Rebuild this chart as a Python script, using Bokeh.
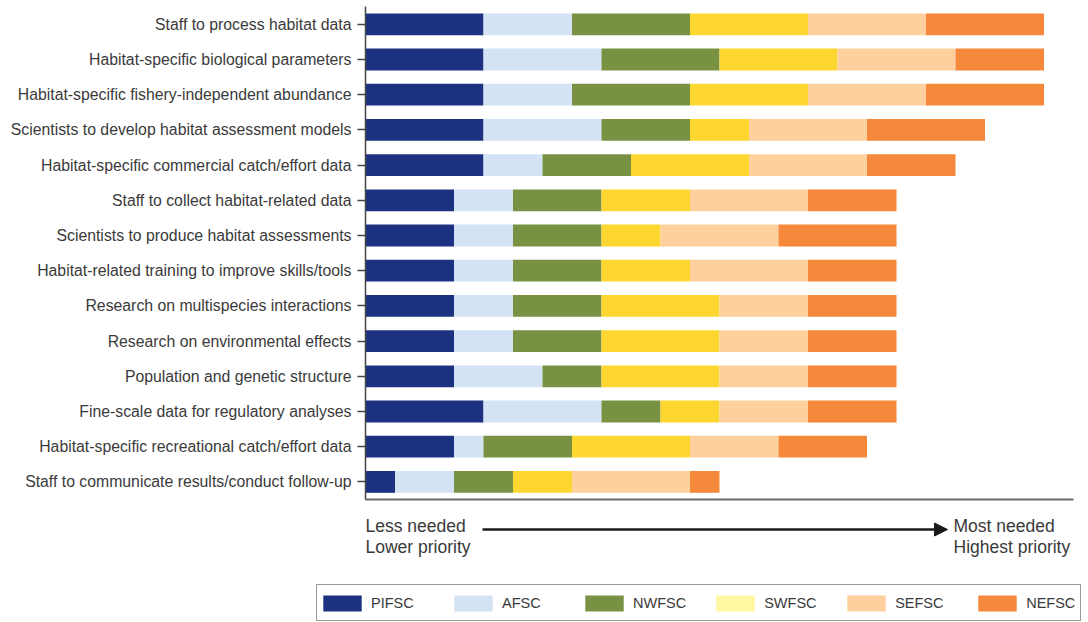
from bokeh.plotting import figure
from bokeh.models import (ColumnDataSource, FixedTicker, Range1d, Legend, LegendItem, Arrow,
                          NormalHead)
from bokeh.core.properties import value
from bokeh.embed import file_html
from bokeh.resources import INLINE

categories = [
    "Staff to process habitat data",
    "Habitat-specific biological parameters",
    "Habitat-specific fishery-independent abundance",
    "Scientists to develop habitat assessment models",
    "Habitat-specific commercial catch/effort data",
    "Staff to collect habitat-related data",
    "Scientists to produce habitat assessments",
    "Habitat-related training to improve skills/tools",
    "Research on multispecies interactions",
    "Research on environmental effects",
    "Population and genetic structure",
    "Fine-scale data for regulatory analyses",
    "Habitat-specific recreational catch/effort data",
    "Staff to communicate results/conduct follow-up",
]
series = ["PIFSC", "AFSC", "NWFSC", "SWFSC", "SEFSC", "NEFSC"]
PIFSC = [4, 4, 4, 4, 4, 3, 3, 3, 3, 3, 3, 4, 3, 1]
AFSC  = [3, 4, 3, 4, 2, 2, 2, 2, 2, 2, 3, 4, 1, 2]
NWFSC = [4, 4, 4, 3, 3, 3, 3, 3, 3, 3, 2, 2, 3, 2]
SWFSC = [4, 4, 4, 2, 4, 3, 2, 3, 4, 4, 4, 2, 4, 2]
SEFSC = [4, 4, 4, 4, 4, 4, 4, 4, 3, 3, 3, 3, 3, 4]
NEFSC = [4, 3, 4, 4, 3, 3, 4, 3, 3, 3, 3, 3, 3, 1]
bar_colors = ["#1c3281", "#d4e3f3", "#789143", "#fdd630", "#fdd09e", "#f5883a"]
legend_colors = ["#1c3281", "#d4e3f3", "#789143", "#fff8a0", "#fdd09e", "#f5883a"]
AXIS_MAX = 24
low_text = ["Less needed", "Lower priority"]
high_text = ["Most needed", "Highest priority"]

W, H = 1088, 622
LEFT = 365
UNIT_PX = 29.5
ROW_PX = 35.2
TOP_CENTER = 23.8
n = len(categories)

source = ColumnDataSource(dict(y=list(range(n)), PIFSC=PIFSC, AFSC=AFSC, NWFSC=NWFSC,
                               SWFSC=SWFSC, SEFSC=SEFSC, NEFSC=NEFSC))

p = figure(width=W, height=H, output_backend="svg", toolbar_location=None,
           x_range=Range1d(-LEFT / UNIT_PX, (W - LEFT) / UNIT_PX),
           y_range=Range1d((H - TOP_CENTER) / ROW_PX, -TOP_CENTER / ROW_PX),
           x_axis_location=None, min_border=0)
p.outline_line_color = None
p.grid.visible = False

# legend-only renderer for the pale SWFSC swatch (zero-width bars, nothing visible)
pale = p.hbar(y="y", left=0, right=0, height=0.5, source=source,
              fill_color=legend_colors[3], line_color=None)

renderers = p.hbar_stack(series, y="y", height=0.62, color=bar_colors, source=source, line_width=0)

# y axis, pinned at x = 0
ax = p.yaxis[0]
ax.fixed_location = 0
ax.ticker = FixedTicker(ticks=list(range(n)))
ax.major_label_overrides = {i: c for i, c in enumerate(categories)}
ax.bounds = (-0.5, n - 0.5)
ax.axis_line_color = "#444444"
ax.axis_line_width = 1.5
ax.major_tick_out = 8
ax.major_tick_in = 0
ax.major_tick_line_color = "#444444"
ax.major_tick_line_width = 1.5
ax.minor_tick_line_color = None
ax.major_label_standoff = 6
ax.major_label_text_font = "Liberation Sans"
ax.major_label_text_font_size = "15.8px"
ax.major_label_text_color = "#3a3a3a"

# bottom axis line
p.segment(x0=[0], y0=[n - 0.5], x1=[AXIS_MAX], y1=[n - 0.5], line_color="#6a6a6a", line_width=2)

# priority texts
def ypx(py):
    return (py - TOP_CENTER) / ROW_PX

def xpx(px):
    return (px - LEFT) / UNIT_PX

p.text(x=[0, 0], y=[ypx(525), ypx(546)], text=low_text, text_font=value("Liberation Sans"),
       text_font_size="17.5px", text_color="#3a3a3a", text_baseline="alphabetic", text_align="left")
p.text(x=[xpx(953)] * 2, y=[ypx(525), ypx(546)], text=high_text, text_font=value("Liberation Sans"),
       text_font_size="17.5px", text_color="#3a3a3a", text_baseline="alphabetic", text_align="left")
p.add_layout(Arrow(x_start=xpx(482), y_start=ypx(529), x_end=xpx(947), y_end=ypx(529),
                   line_width=2.5, line_color="#1a1a1a",
                   end=NormalHead(size=13, fill_color="#1a1a1a", line_color="#1a1a1a")))

legend_renderers = [renderers[0], renderers[1], renderers[2], pale, renderers[4], renderers[5]]
items = [LegendItem(label=name, renderers=[r]) for name, r in zip(series, legend_renderers)]
legend = Legend(items=items, orientation="horizontal", location=(316, 1),
                glyph_width=48, glyph_height=20, label_standoff=5, label_width=53,
                label_height=33, spacing=25, padding=1, margin=0,
                label_text_font="Liberation Sans", label_text_font_size="14.5px",
                label_text_color="#3a3a3a", border_line_color="#333333", border_line_width=1.2,
                background_fill_alpha=1)
p.add_layout(legend, "center")

open("out.html", "w").write(file_html(p, INLINE))
